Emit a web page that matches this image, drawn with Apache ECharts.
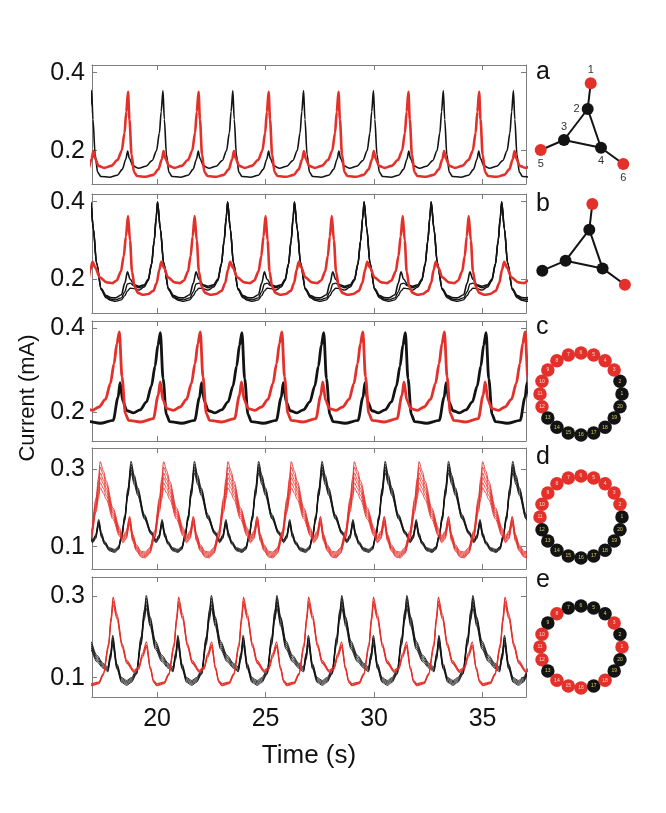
<!DOCTYPE html>
<html>
<head>
<meta charset="utf-8">
<title>Current oscillations</title>
<script src="https://cdn.jsdelivr.net/npm/echarts@6.0.0/dist/echarts.min.js"></script>
<style>
  html, body { margin: 0; padding: 0; background: #fff; }
  #main { width: 666px; height: 813px; }
</style>
</head>
<body>
<div id="main"></div>
<script>
// ---- data ----
const timeTicks = [20, 25, 30, 35];
const panelLetters = ['a', 'b', 'c', 'd', 'e'];

// peak times (s) of each group, one period shape per group (phase 0..1 between peaks)
const aBlackPeaks = [13.75, 16.98, 20.27, 23.49, 26.75, 29.97, 33.19, 36.42, 39.65];
const aRedPeaks = [12.2, 15.43, 18.66, 21.91, 25.14, 28.36, 31.58, 34.84, 38.07];
const aPhase = [0, .02, .05, .085, .13, .25, .36, .43, .48, .505, .53, .58, .66, .76, .85, .91, .95, .975];
const aBlack = [.354, .28, .19, .145, .134, .132, .137, .152, .178, .199, .18, .161, .155, .16, .175, .2, .245, .3];
const aRed = [.351, .28, .19, .145, .135, .133, .138, .152, .178, .199, .18, .161, .156, .161, .176, .2, .245, .3];

const bBlackPeaks = [13.8, 16.94, 20.02, 23.25, 26.33, 29.54, 32.63, 35.88, 39.0];
const bRedPeaks = [12.3, 15.39, 18.66, 21.73, 25.0, 28.05, 31.32, 34.36, 37.63];
const bBlackPhase = [0, .04, .087, .158, .23, .3, .37, .46, .51, .55, .59, .65, .72, .8, .86, .91, .95, .98];
const bBlack1 = [.40, .33, .243, .176, .158, .153, .152, .16, .19, .219, .2, .186, .182, .186, .2, .24, .3, .36];
const bBlack2 = [.40, .33, .243, .174, .155, .149, .147, .152, .168, .188, .19, .183, .178, .183, .198, .238, .3, .36];
const bBlack3 = [.398, .33, .24, .172, .152, .146, .143, .147, .158, .17, .177, .176, .172, .18, .196, .236, .298, .358];
const bRedPhase = [0, .03, .06, .1, .15, .22, .3, .38, .43, .47, .5, .54, .6, .7, .78, .84, .9, .94, .97];
const bRed = [.363, .3, .22, .18, .165, .16, .162, .17, .19, .225, .245, .23, .205, .192, .19, .197, .22, .26, .31];

const cRedPeaks = [10.8, 14.5, 18.26, 21.99, 25.75, 29.48, 33.24, 36.96, 40.7];
const cBlackPeaks = [12.65, 16.4, 20.15, 23.91, 27.68, 31.44, 35.16, 38.9];
const cPhase = [0, .033, .074, .115, .26, .42, .48, .505, .54, .59, .67, .75, .83, .89, .935, .97];
const cRed = [.392, .284, .196, .18, .176, .184, .24, .272, .228, .208, .204, .212, .23, .268, .316, .364];
const cBlack = [.39, .28, .194, .177, .173, .18, .235, .27, .225, .203, .198, .205, .224, .262, .31, .36];

const dRedPeaks = [14.45, 17.38, 20.3, 23.26, 26.18, 29.09, 32.07, 35.0, 37.95];
const dBlackPeaks = [12.95, 15.88, 18.8, 21.72, 24.68, 27.6, 30.51, 33.43, 36.39, 39.3];
const dRedPhase = [0, .05, .095, .2, .305, .357, .41, .463, .515, .57, .647, .71, .78, .857, .935, .97];
const dRed1 = [.319, .295, .269, .2, .148, .127, .14, .178, .131, .105, .088, .086, .097, .14, .226, .275];
const dRed2 = [.305, .285, .26, .194, .143, .123, .136, .175, .128, .101, .085, .083, .094, .136, .218, .265];
const dRed3 = [.29, .272, .25, .188, .139, .12, .132, .17, .124, .098, .082, .08, .091, .132, .21, .252];
const dRed4 = [.278, .262, .242, .183, .135, .117, .128, .166, .12, .095, .079, .077, .088, .128, .204, .242];
const dRed5 = [.265, .25, .232, .177, .131, .113, .124, .162, .117, .092, .076, .074, .085, .124, .197, .232];
const dRed6 = [.252, .238, .222, .171, .127, .11, .12, .158, .113, .089, .073, .071, .082, .12, .19, .222];
const dBlackPhase = [0, .05, .105, .21, .315, .395, .44, .49, .535, .58, .66, .74, .8, .85, .9, .95];
const dBlack1 = [.32, .285, .252, .183, .14, .118, .13, .17, .135, .114, .097, .093, .1, .13, .18, .25];
const dBlack2 = [.312, .279, .247, .18, .138, .116, .128, .166, .132, .112, .095, .091, .098, .127, .176, .245];
const dBlack3 = [.305, .273, .242, .177, .136, .114, .126, .162, .129, .11, .093, .089, .096, .125, .173, .24];
const dBlack4 = [.298, .267, .237, .174, .134, .112, .123, .158, .126, .108, .091, .087, .094, .122, .17, .235];
const dBlack5 = [.29, .26, .232, .171, .132, .11, .12, .154, .123, .106, .089, .085, .092, .12, .167, .23];

const eRedPeaks = [14.97, 17.97, 20.99, 23.98, 26.98, 29.97, 32.96, 36.03, 39.03];
const eBlackPeaks = [13.5, 16.5, 19.5, 22.5, 25.52, 28.51, 31.51, 34.55, 37.55];
const eRedPhase = [0, .06, .14, .21, .32, .39, .45, .51, .57, .62, .67, .78, .85, .93, .97];
const eRed1 = [.298, .257, .183, .142, .118, .126, .16, .188, .126, .093, .085, .089, .11, .184, .25];
const eRed2 = [.288, .25, .178, .138, .115, .123, .155, .18, .122, .09, .082, .087, .108, .178, .243];
const eRed3 = [.28, .244, .174, .135, .113, .12, .15, .175, .119, .088, .08, .085, .106, .173, .237];
const eBlackPhase = [0, .06, .14, .24, .34, .41, .45, .485, .55, .62, .7, .77, .85, .92, .97];
const eBlack1 = [.302, .249, .19, .155, .135, .126, .16, .204, .134, .1, .093, .1, .118, .2, .266];
const eBlack2 = [.295, .244, .185, .151, .132, .123, .156, .198, .13, .097, .09, .097, .115, .195, .26];
const eBlack3 = [.287, .238, .18, .147, .129, .12, .152, .192, .127, .094, .087, .094, .112, .19, .254];
const eBlack4 = [.279, .232, .175, .143, .126, .117, .148, .186, .124, .091, .084, .091, .11, .185, .248];
const eBlack5 = [.27, .226, .17, .139, .123, .114, .144, .18, .121, .088, .081, .088, .108, .18, .242];

// network diagrams
const triX = [50, 47, 23.3, 60.3, 0, 82.6];
const triY = [0, 25.7, 56.7, 64.4, 66.7, 80.7];
const triEdges = [[1, 2], [2, 3], [2, 4], [3, 4], [3, 5], [4, 6]];
const triRedA = [1, 5, 6];
const triRedB = [1, 6];
const ringNodes = [1, 2, 3, 4, 5, 6, 7, 8, 9, 10, 11, 12, 13, 14, 15, 16, 17, 18, 19, 20];
const ringRedC = [3, 4, 5, 6, 7, 8, 9, 10, 11, 12];
const ringRedD = [2, 3, 4, 5, 6, 7, 8, 9, 10, 11];
const ringRedE = [1, 3, 8, 10, 11, 12, 14, 15, 16, 18];

// ---- drawing ----
const RED = '#e4302a';
const BLACK = '#131313';
const AXIS = '#7d7d7d';
const FONT = "'Liberation Sans', Arial, sans-serif";

// lay the measured period shape between consecutive peaks
function tile(peaks, phase, vals) {
  const out = [];
  for (let i = 0; i < peaks.length - 1; i++) {
    const span = peaks[i + 1] - peaks[i];
    for (let j = 0; j < phase.length; j++) {
      out.push([peaks[i] + phase[j] * span, vals[j]]);
    }
  }
  out.push([peaks[peaks.length - 1], vals[0]]);
  return out;
}

window.onload = function () {
  const chartDom = document.getElementById('main');
  const myChart = echarts.init(chartDom, null, { renderer: 'canvas' });

  const panels = [
    { top: 65, height: 119, yMin: 0.1146, yMax: 0.4197, ticks: [0.2, 0.4] },
    { top: 194, height: 119, yMin: 0.1131, yMax: 0.4198, ticks: [0.2, 0.4] },
    { top: 321, height: 120, yMin: 0.1305, yMax: 0.418, ticks: [0.2, 0.4] },
    { top: 448, height: 121, yMin: 0.0424, yMax: 0.3543, ticks: [0.1, 0.3] },
    { top: 577, height: 120, yMin: 0.0523, yMax: 0.3475, ticks: [0.1, 0.3] }
  ];

  const lines = [
    [
      { data: tile(aBlackPeaks, aPhase, aBlack), color: BLACK, width: 1.6 },
      { data: tile(aRedPeaks, aPhase, aRed), color: RED, width: 2.6 }
    ],
    [
      { data: tile(bBlackPeaks, bBlackPhase, bBlack3), color: BLACK, width: 1.4 },
      { data: tile(bBlackPeaks, bBlackPhase, bBlack2), color: BLACK, width: 1.4 },
      { data: tile(bBlackPeaks, bBlackPhase, bBlack1), color: BLACK, width: 1.6 },
      { data: tile(bRedPeaks, bRedPhase, bRed), color: RED, width: 2.6 }
    ],
    [
      { data: tile(cBlackPeaks, cPhase, cBlack), color: BLACK, width: 2.8 },
      { data: tile(cRedPeaks, cPhase, cRed), color: RED, width: 2.8 }
    ],
    [dBlack1, dBlack2, dBlack3, dBlack4, dBlack5].map(v => ({ data: tile(dBlackPeaks, dBlackPhase, v), color: BLACK, width: 0.9 }))
      .concat([dRed1, dRed2, dRed3, dRed4, dRed5, dRed6].map(v => ({ data: tile(dRedPeaks, dRedPhase, v), color: RED, width: 0.9 }))),
    [eBlack1, eBlack2, eBlack3, eBlack4, eBlack5].map(v => ({ data: tile(eBlackPeaks, eBlackPhase, v), color: BLACK, width: 0.9 }))
      .concat([eRed1, eRed2, eRed3].map(v => ({ data: tile(eRedPeaks, eRedPhase, v), color: RED, width: 1.1 })))
  ];

  const grid = [], xAxis = [], yAxis = [], series = [];
  panels.forEach(function (p, i) {
    grid.push({ left: 92, top: p.top, width: 434, height: p.height, show: false });
    const tick = { show: true, inside: true, length: 5, lineStyle: { color: AXIS } };
    const line = { show: true, onZero: false, lineStyle: { color: AXIS, width: 1 } };
    ['bottom', 'top'].forEach(function (pos) {
      xAxis.push({
        type: 'value', gridIndex: i, position: pos, min: 17, max: 37,
        axisLine: line, splitLine: { show: false },
        axisTick: Object.assign({ customValues: timeTicks }, tick),
        axisLabel: {
          show: pos === 'bottom' && i === panels.length - 1, customValues: timeTicks,
          fontSize: 25, color: '#111', margin: 10, fontFamily: FONT
        }
      });
    });
    ['left', 'right'].forEach(function (pos) {
      yAxis.push({
        type: 'value', gridIndex: i, position: pos, min: p.yMin, max: p.yMax,
        axisLine: line, splitLine: { show: false },
        axisTick: Object.assign({ customValues: p.ticks }, tick),
        axisLabel: {
          show: pos === 'left', customValues: p.ticks, fontSize: 25, color: '#111',
          margin: 7, fontFamily: FONT, formatter: v => v.toFixed(1)
        }
      });
    });
    lines[i].forEach(function (l) {
      series.push({
        type: 'line', xAxisIndex: 2 * i, yAxisIndex: 2 * i, data: l.data,
        showSymbol: false, smooth: 0.3, smoothMonotone: 'x', clip: true,
        lineStyle: { color: l.color, width: l.width }, silent: true
      });
    });
  });

  // triangle networks (a, b)
  function triangle(left, top, reds, labels) {
    return {
      type: 'graph', layout: 'none', left: left, top: top, width: 82.6, height: 80.7,
      symbolSize: 12, silent: true,
      data: triX.map((x, k) => ({
        name: 'n' + (k + 1), x: x, y: triY[k],
        itemStyle: { color: reds.includes(k + 1) ? RED : BLACK, opacity: 1 },
        label: {
          show: labels, formatter: String(k + 1), fontSize: 11, color: '#333',
          position: ['top', 'left', 'top', 'bottom', 'bottom', 'bottom'][k], distance: 2
        }
      })),
      links: triEdges.map(e => ({ source: 'n' + e[0], target: 'n' + e[1] })),
      lineStyle: { color: BLACK, width: 2, opacity: 1, curveness: 0 },
      z: 3
    };
  }
  series.push(triangle(540.7, 83.3, triRedA, true));
  series.push(triangle(542.3, 204, triRedB, false));

  // ring networks (c, d, e)
  const rings = [
    { center: [581, 394], reds: ringRedC },
    { center: [581, 517], reds: ringRedD },
    { center: [581, 647], reds: ringRedE }
  ];
  const polar = [], angleAxis = [], radiusAxis = [];
  rings.forEach(function (r, i) {
    polar.push({ center: r.center, radius: 41 });
    angleAxis.push({ polarIndex: i, type: 'value', min: 0, max: 20, startAngle: 0, clockwise: false, show: false });
    radiusAxis.push({ polarIndex: i, type: 'value', min: 0, max: 1, show: false });
    series.push({
      type: 'scatter', coordinateSystem: 'polar', polarIndex: i, symbolSize: 13.5, silent: true,
      data: ringNodes.map(n => ({
        name: String(n), value: [1, n - 1],
        itemStyle: { color: r.reds.includes(n) ? RED : BLACK, opacity: 1 },
        label: { color: r.reds.includes(n) ? '#ffd8cc' : '#cfcf66' }
      })),
      label: { show: true, position: 'inside', formatter: '{b}', fontSize: 5, fontFamily: FONT }
    });
  });

  const graphic = [
    {
      type: 'text', x: 28, y: 398, rotation: Math.PI / 2,
      style: { text: 'Current (mA)', fontSize: 22, fontFamily: FONT, fill: '#111', align: 'center', verticalAlign: 'middle' }
    },
    {
      type: 'text', x: 309, y: 756,
      style: { text: 'Time (s)', fontSize: 26, fontFamily: FONT, fill: '#111', align: 'center', verticalAlign: 'middle' }
    }
  ];
  const letterY = [72.5, 204.5, 327.5, 457.5, 580.5];
  panelLetters.forEach(function (t, i) {
    graphic.push({
      type: 'text', x: 536, y: letterY[i],
      style: { text: t, fontSize: 25, fontFamily: FONT, fill: '#111', align: 'left', verticalAlign: 'middle' }
    });
  });

  const option = {
    animation: false,
    backgroundColor: '#fff',
    grid: grid, xAxis: xAxis, yAxis: yAxis,
    polar: polar, angleAxis: angleAxis, radiusAxis: radiusAxis,
    graphic: graphic,
    series: series
  };
  option && myChart.setOption(option);
};
</script>
</body>
</html>
